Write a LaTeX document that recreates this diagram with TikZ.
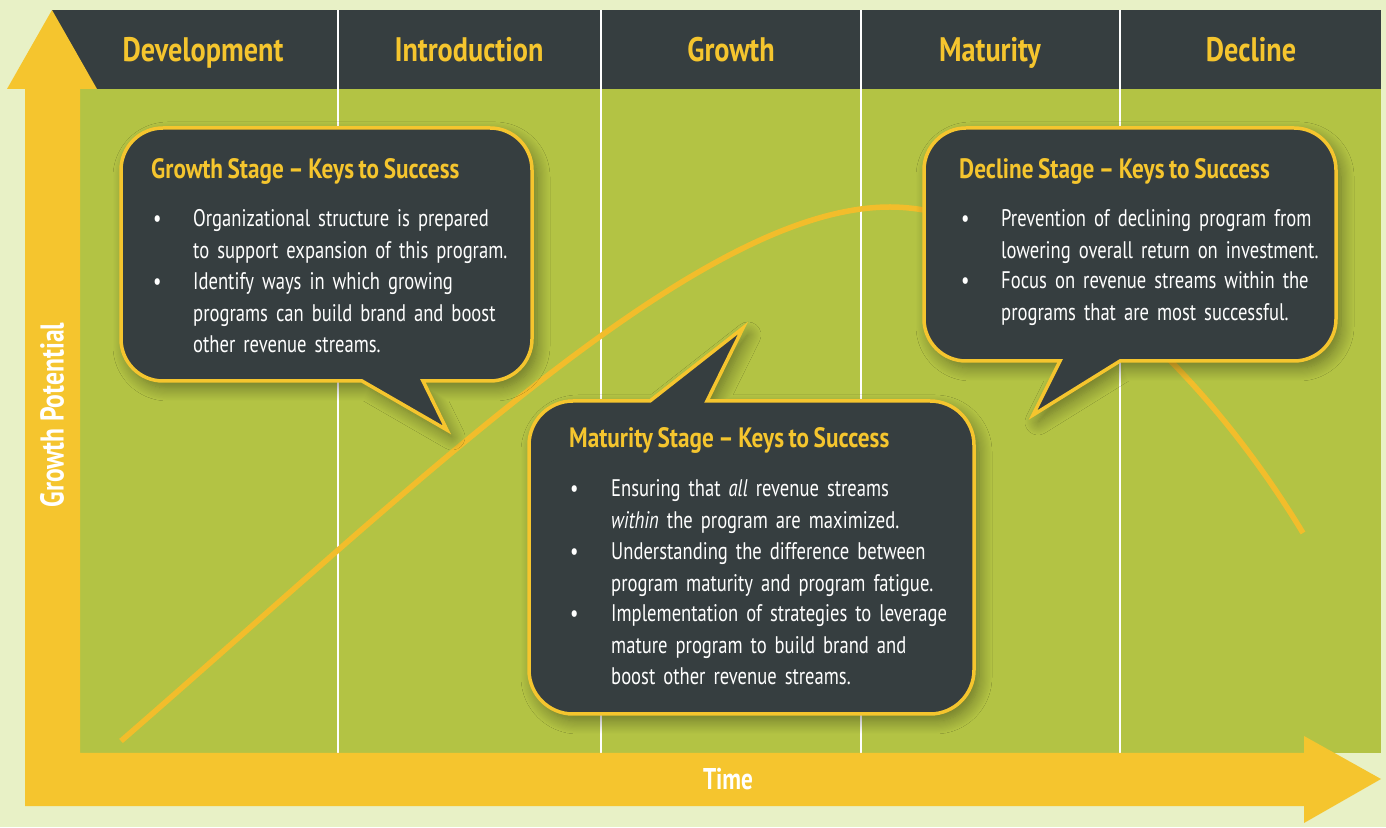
\documentclass[tikz,border=0pt]{standalone}
\usepackage{fontspec}
\setmainfont{PT Sans}
\newfontfamily\cond[FakeStretch=0.775]{PT Sans}
\newfontfamily\condhead[FakeStretch=0.83]{PT Sans}
\usetikzlibrary{shadows.blur}
\definecolor{paper}{HTML}{E8F1C6}
\definecolor{field}{HTML}{B3C344}
\definecolor{slate}{HTML}{363E40}
\definecolor{gold}{HTML}{F5C52E}
\definecolor{curvegold}{HTML}{F2BD2B}
\newcommand\bodyface{\cond\fontsize{24}{31.5}\selectfont\spaceskip=3.2pt plus 1pt minus 1pt\relax}
\newcommand\headface{\condhead\bfseries\fontsize{28}{28}\selectfont\spaceskip=4.6pt plus 1pt minus 1pt\relax}
\begin{document}
\begin{tikzpicture}[x=1pt,y=1pt,
  phase/.style={font=\condhead\bfseries\fontsize{34}{34}\selectfont, text=gold, inner sep=0, anchor=base},
  axislabel/.style={font=\cond\bfseries\fontsize{30}{30}\selectfont, text=white, inner sep=0},
  bubble/.style={fill=slate, draw=gold, line width=3.5pt, line join=miter,
    blur shadow={shadow xshift=5pt, shadow yshift=-7pt, shadow blur radius=13pt,
                 shadow blur steps=12, shadow opacity=40}},
  heading/.style={font=\headface, text=gold, inner sep=0, anchor=base west},
  bulletmark/.style={font=\bodyface, text=white, inner sep=0, anchor=base west},
  itemtext/.style={font=\bodyface, text=white, inner sep=0,
    anchor=base west, text width=420pt, align=left},
]
\useasboundingbox (0,0) rectangle (1386,827);
% page and plotting field
\fill[paper] (0,0) rectangle (1386,827);
\fill[field] (80,74) rectangle (1381,738);
\fill[slate] (52,738) rectangle (1381,817);
% stage separators
\foreach \sx in {338,601,861,1120}
  \draw[white, line width=2.5pt] (\sx,74) -- (\sx,817);
% stage names
\node[phase] (dev) at (203,765) {Development};
\node[phase] (intro) at (469,765) {Introduction};
\node[phase] (grow) at (731,765) {Growth};
\node[phase] (mat) at (990,765) {Maturity};
\node[phase] (dec) at (1251,765) {Decline};
% life-cycle curve
\coordinate (c0) at (121,86);
\coordinate (cpeak) at (890,620);
\coordinate (c1) at (1303,294);
\draw[curvegold, line width=5.5pt] (c0) .. controls (420,346) and (700,620) .. (cpeak)
  .. controls (1010,620) and (1180,497) .. (c1);
% axes as one arrow shape
\fill[gold] (25,21) -- (25,738) -- (7,738) -- (52,817) -- (97,738) -- (80,738) -- (80,74)
  -- (1304,74) -- (1304,91) -- (1381,48) -- (1304,4) -- (1304,21) -- cycle;
\node[axislabel] (time) at (728,48) {Time};
\node[axislabel, rotate=90, font=\cond\bfseries\fontsize{33}{33}\selectfont] (pot) at (52,412) {Growth Potential};
% growth stage callout
\path[bubble] (121,488) -- (121,657) arc(180:90:42) -- (490,699) arc(90:0:42) -- (532,488)
  arc(0:-90:42) -- (423,446) -- (447,397) -- (362,446) -- (163,446) arc(270:180:42) -- cycle;
\node[heading] (gt) at (151,648) {Growth Stage – Keys to Success};
\node[bulletmark] (gb1) at (153,600) {•};
\node[itemtext] (gi1) at (193,600) {Organizational structure is prepared\\to support expansion of this program.};
\node[bulletmark] (gb2) at (153,537) {•};
\node[itemtext] (gi2) at (193,537) {Identify ways in which growing\\programs can build brand and boost\\other revenue streams.};
% decline stage callout
\path[bubble] (924,508) -- (924,657) arc(180:90:42) -- (1294,699) arc(90:0:42) -- (1336,508)
  arc(0:-90:42) -- (1120,466) -- (1033,412) -- (1060,466) -- (966,466) arc(270:180:42) -- cycle;
\node[heading] (dt) at (959,648) {Decline Stage – Keys to Success};
\node[bulletmark] (db1) at (961,600) {•};
\node[itemtext] (di1) at (1001,600) {Prevention of declining program from\\lowering overall return on investment.};
\node[bulletmark] (db2) at (961,538) {•};
\node[itemtext] (di2) at (1001,538) {Focus on revenue streams within the\\programs that are most successful.};
% maturity stage callout
\path[bubble] (529,157) -- (529,382) arc(180:90:44) -- (650,426) -- (743,499) -- (707,426)
  -- (930,426) arc(90:0:44) -- (974,157) arc(0:-90:44) -- (573,113) arc(270:180:44) -- cycle;
\node[heading] (mt) at (569,379) {Maturity Stage – Keys to Success};
\node[bulletmark] (mb1) at (570,330) {•};
\node[itemtext] (mi1) at (611,330) {Ensuring that \textit{all} revenue streams\\\textit{within} the program are maximized.};
\node[bulletmark] (mb2) at (570,267) {•};
\node[itemtext] (mi2) at (611,267) {Understanding the difference between\\program maturity and program fatigue.};
\node[bulletmark] (mb3) at (570,205) {•};
\node[itemtext] (mi3) at (611,205) {Implementation of strategies to leverage\\mature program to build brand and\\boost other revenue streams.};
\end{tikzpicture}
\end{document}
